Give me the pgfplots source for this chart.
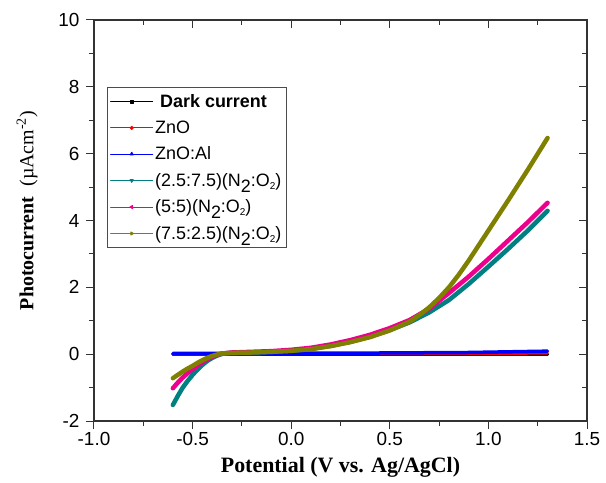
\documentclass[border=0pt]{standalone}
\usepackage{pgfplots}
\pgfplotsset{compat=1.18}
\usepackage{fontspec}
\setmainfont{Liberation Serif}
\newfontfamily\arial{Liberation Sans}
\definecolor{cteal}{HTML}{008080}
\definecolor{colive}{HTML}{808000}
% N2:O2 as in the original: big lowered 2 after N, small one after O
\newcommand{\ntwo}{N\raisebox{-6bp}{2}:O\raisebox{-3bp}{\fontsize{10}{10}\selectfont 2}}

\begin{document}
\begin{tikzpicture}
\pgfplotsset{every axis/.append style={
  scale only axis, width=493bp, height=401bp,
  xmin=-1, xmax=1.5, ymin=-2, ymax=10,
  xtick={-1,-0.5,...,1.5}, ytick={-2,0,...,10},
  minor x tick num=1, minor y tick num=1,
  major tick length=8bp, minor tick length=5bp,
  axis line style={line width=1.2bp, black!80},
  every tick/.style={line width=1bp, black!80},
}}
\begin{axis}[
  xtick pos=bottom, ytick pos=left, tick align=outside,
  /pgf/number format/assume math mode=true,
  tick label style={font=\arial\fontsize{19}{22}\selectfont},
  xticklabel style={/pgf/number format/.cd, fixed, fixed zerofill, precision=1},
  yticklabel style={xshift=-3bp},
  xlabel={\bfseries Potential (V vs. Ag/AgCl)},
  ylabel={\textbf{Photocurrent}\ \ (\textmu Acm\textsuperscript{-2})},
  xlabel style={font=\fontsize{22}{24}\selectfont},
  ylabel style={font=\fontsize{20}{24}\selectfont, xshift=10bp},
  xlabel shift=5bp, ylabel shift=14bp,
  legend cell align=left,
  legend image code/.code={\draw[mark repeat=2,mark phase=2,#1] plot coordinates {(0bp,0bp)(21bp,0bp)(42bp,0bp)};},
  legend image post style={line width=1bp},
  legend style={at={(0.026,0.833)}, anchor=north west, draw=black!70, line width=0.8bp,
    font=\arial\fontsize{18}{20}\selectfont, row sep=8bp, inner xsep=3bp, inner ysep=5bp},
  every axis plot/.append style={line join=round, line cap=round},
]
\addplot[black, line width=3bp, mark=square*, mark size=1.6bp, mark phase=1000] coordinates {
(-0.60,0.00) (-0.30,0.00) (0.00,0.00) (0.30,0.00) (0.60,0.00) (0.90,0.00) (1.30,0.00)};
\addlegendentry{\hspace{5bp}\bfseries Dark current}
\addplot[red, line width=3bp, mark=*, mark size=1.6bp, mark phase=1000] coordinates {
(-0.60,0.00) (-0.30,0.00) (0.00,0.01) (0.30,0.01) (0.60,0.01) (0.90,0.02) (1.30,0.03)};
\addlegendentry{ZnO}
\addplot[blue, line width=3.5bp, mark=triangle*, mark size=1.8bp, mark phase=1000] coordinates {
(-0.60,0.02) (-0.30,0.02) (0.00,0.03) (0.30,0.03) (0.60,0.04) (0.90,0.05) (1.10,0.07) (1.30,0.09)};
\addlegendentry{ZnO:Al}
\addplot[cteal, line width=4.5bp, mark=triangle*, mark options={rotate=180}, mark size=1.8bp, mark phase=1000] coordinates {
(-0.60,-1.52) (-0.575,-1.25) (-0.55,-1.00) (-0.525,-0.80) (-0.50,-0.62) (-0.475,-0.46)
(-0.45,-0.32) (-0.425,-0.20) (-0.40,-0.11) (-0.375,-0.04) (-0.35,0.01) (-0.325,0.03)
(-0.30,0.04) (-0.20,0.05) (-0.10,0.07) (0.00,0.10) (0.10,0.16) (0.20,0.25) (0.30,0.37)
(0.40,0.53) (0.50,0.72) (0.60,0.95) (0.70,1.25) (0.80,1.62) (0.90,2.10) (1.00,2.62)
(1.10,3.15) (1.20,3.70) (1.30,4.29)};
\addlegendentry{(2.5:7.5)(\ntwo)}
\addplot[magenta, line width=4.5bp, mark=triangle*, mark options={rotate=90}, mark size=1.8bp, mark phase=1000] coordinates {
(-0.60,-1.02) (-0.575,-0.85) (-0.55,-0.70) (-0.525,-0.57) (-0.50,-0.45) (-0.475,-0.34)
(-0.45,-0.24) (-0.425,-0.15) (-0.40,-0.08) (-0.375,-0.02) (-0.35,0.02) (-0.30,0.05)
(-0.20,0.07) (-0.10,0.09) (0.00,0.13) (0.10,0.19) (0.20,0.29) (0.30,0.42) (0.40,0.58)
(0.50,0.78) (0.60,1.02) (0.70,1.36) (0.80,1.83) (0.90,2.32) (1.00,2.85) (1.10,3.40)
(1.20,3.95) (1.30,4.53)};
\addlegendentry{(5:5)(\ntwo)}
\addplot[colive, line width=4.5bp, mark=triangle*, mark options={rotate=-90}, mark size=1.8bp, mark phase=1000] coordinates {
(-0.60,-0.72) (-0.575,-0.62) (-0.55,-0.52) (-0.525,-0.43) (-0.50,-0.35) (-0.475,-0.26)
(-0.45,-0.18) (-0.425,-0.11) (-0.40,-0.05) (-0.375,-0.01) (-0.35,0.02) (-0.30,0.04)
(-0.20,0.05) (-0.10,0.07) (0.00,0.10) (0.10,0.15) (0.20,0.24) (0.30,0.36) (0.40,0.51)
(0.50,0.71) (0.60,0.97) (0.65,1.17) (0.70,1.40) (0.75,1.68) (0.80,2.00) (0.85,2.38)
(0.90,2.80) (0.95,3.25) (1.00,3.70) (1.10,4.60) (1.20,5.52) (1.30,6.47)};
\addlegendentry{(7.5:2.5)(\ntwo)}
\end{axis}
\begin{axis}[
  xtick pos=top, ytick pos=right, tick align=inside,
  xticklabels={}, yticklabels={},
]
\end{axis}
\pgfresetboundingbox
\path ([shift={(-94bp,-62bp)}]current axis.south west) rectangle ([shift={(19bp,20bp)}]current axis.north east);
\end{tikzpicture}
\end{document}
